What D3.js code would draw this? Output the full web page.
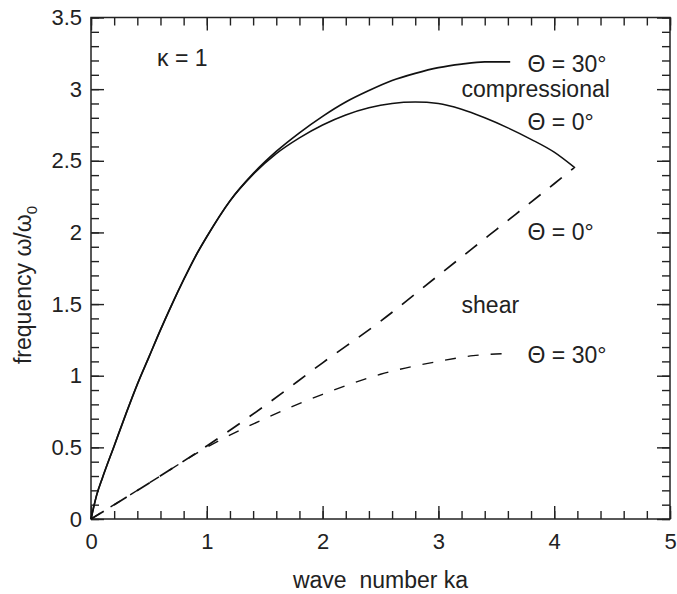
<!DOCTYPE html>
<html>
<head>
<meta charset="utf-8">
<script src="https://cdn.jsdelivr.net/npm/d3@7"></script>
<style>
  html, body { margin: 0; padding: 0; background: #fff; }
  svg { display: block; font-family: "Liberation Sans", Arial, Helvetica, sans-serif; }
</style>
</head>
<body>
<svg id="chart" width="677" height="594"></svg>
<script>
// ---- data (wave number ka, frequency ω/ω0) ----
const compTheta30K = [0, 0.05, 0.1, 0.2, 0.3, 0.4, 0.5, 0.6, 0.7, 0.8, 0.9, 1.0, 1.2, 1.4, 1.6, 1.8, 2.0, 2.2, 2.4, 2.6, 2.8, 3.0, 3.2, 3.4, 3.62];
const compTheta30W = [0, 0.17, 0.29, 0.51, 0.73, 0.94, 1.13, 1.32, 1.50, 1.67, 1.83, 1.97, 2.22, 2.41, 2.565, 2.695, 2.81, 2.91, 2.99, 3.06, 3.11, 3.15, 3.175, 3.19, 3.19];

const compTheta0K = [0, 0.05, 0.1, 0.2, 0.3, 0.4, 0.5, 0.6, 0.7, 0.8, 0.9, 1.0, 1.2, 1.4, 1.6, 1.8, 2.0, 2.2, 2.4, 2.6, 2.8, 3.0, 3.2, 3.4, 3.6, 3.8, 4.0, 4.18];
const compTheta0W = [0, 0.17, 0.29, 0.51, 0.73, 0.94, 1.13, 1.32, 1.50, 1.67, 1.83, 1.97, 2.22, 2.405, 2.55, 2.66, 2.75, 2.82, 2.87, 2.90, 2.91, 2.90, 2.86, 2.80, 2.73, 2.65, 2.56, 2.45];

const shearTheta0K = [0, 0.5, 1.0, 1.5, 2.0, 2.5, 3.0, 3.5, 4.0, 4.17];
const shearTheta0W = [0, 0.25, 0.51, 0.79, 1.09, 1.38, 1.70, 2.02, 2.34, 2.45];

const shearTheta30K = [0, 0.5, 1.0, 1.5, 2.0, 2.5, 3.0, 3.3, 3.62];
const shearTheta30W = [0, 0.25, 0.5, 0.7, 0.87, 1.01, 1.10, 1.14, 1.156];

const xMajorTicks = [0, 1, 2, 3, 4, 5];
const yMajorTicks = [0, 0.5, 1, 1.5, 2, 2.5, 3, 3.5];
const xMinorTicks = d3.range(0, 5.001, 0.2).map(v => +v.toFixed(1));
const yMinorTicks = d3.range(0, 3.501, 0.1).map(v => +v.toFixed(1));

const annotations = [
  { text: "κ = 1", k: 0.57, w: 3.16 },
  { text: "Θ = 30°", k: 3.77, w: 3.12 },
  { text: "compressional", k: 3.2, w: 2.945 },
  { text: "Θ = 0°", k: 3.77, w: 2.715 },
  { text: "Θ = 0°", k: 3.77, w: 1.947 },
  { text: "shear", k: 3.2, w: 1.438 },
  { text: "Θ = 30°", k: 3.77, w: 1.088 }
];

// ---- layout ----
const margin = { left: 91, top: 17.5, right: 7, bottom: 75 };
const W = 677, H = 594;
const svg = d3.select("#chart");

const x = d3.scaleLinear().domain([0, 5]).range([margin.left, W - margin.right]);
const y = d3.scaleLinear().domain([0, 3.5]).range([H - margin.bottom, margin.top]);

const axisColor = "#222";
const fontSize = 22;

// frame
svg.append("rect")
  .attr("x", x(0)).attr("y", y(3.5))
  .attr("width", x(5) - x(0)).attr("height", y(0) - y(3.5))
  .attr("fill", "none").attr("stroke", axisColor).attr("stroke-width", 1.5);

function styleAxis(g) {
  g.select(".domain").remove();
  g.selectAll(".tick line").attr("stroke", axisColor).attr("stroke-width", 1.4);
  g.selectAll(".tick text").attr("fill", "#222").attr("font-size", fontSize).attr("font-family", "Liberation Sans, Arial, sans-serif");
}

const majorLen = 13, minorLen = 8;

// bottom
svg.append("g").attr("transform", `translate(0,${y(0)})`)
  .call(d3.axisBottom(x).tickValues(xMinorTicks).tickSizeInner(-minorLen).tickSizeOuter(0).tickFormat(""))
  .call(styleAxis);
svg.append("g").attr("transform", `translate(0,${y(0)})`)
  .call(d3.axisBottom(x).tickValues(xMajorTicks).tickSizeInner(-majorLen).tickSizeOuter(0).tickPadding(14).tickFormat(d3.format("d")))
  .call(styleAxis);
// top
svg.append("g").attr("transform", `translate(0,${y(3.5)})`)
  .call(d3.axisTop(x).tickValues(xMinorTicks).tickSizeInner(-minorLen).tickSizeOuter(0).tickFormat(""))
  .call(styleAxis);
svg.append("g").attr("transform", `translate(0,${y(3.5)})`)
  .call(d3.axisTop(x).tickValues(xMajorTicks).tickSizeInner(-majorLen).tickSizeOuter(0).tickFormat(""))
  .call(styleAxis);
// left
svg.append("g").attr("transform", `translate(${x(0)},0)`)
  .call(d3.axisLeft(y).tickValues(yMinorTicks).tickSizeInner(-minorLen).tickSizeOuter(0).tickFormat(""))
  .call(styleAxis);
svg.append("g").attr("transform", `translate(${x(0)},0)`)
  .call(d3.axisLeft(y).tickValues(yMajorTicks).tickSizeInner(-majorLen).tickSizeOuter(0).tickPadding(9).tickFormat(d => String(d)))
  .call(styleAxis);
// right
svg.append("g").attr("transform", `translate(${x(5)},0)`)
  .call(d3.axisRight(y).tickValues(yMinorTicks).tickSizeInner(-minorLen).tickSizeOuter(0).tickFormat(""))
  .call(styleAxis);
svg.append("g").attr("transform", `translate(${x(5)},0)`)
  .call(d3.axisRight(y).tickValues(yMajorTicks).tickSizeInner(-majorLen).tickSizeOuter(0).tickFormat(""))
  .call(styleAxis);

// ---- curves ----
const line = d3.line().x(d => x(d[0])).y(d => y(d[1])).curve(d3.curveMonotoneX);
const zip = (a, b) => a.map((v, i) => [v, b[i]]);

const series = [
  { pts: zip(compTheta30K, compTheta30W), dash: null, width: 1.7 },
  { pts: zip(compTheta0K, compTheta0W), dash: null, width: 1.5 },
  { pts: zip(shearTheta0K, shearTheta0W), dash: "15,12", width: 1.7 },
  { pts: zip(shearTheta30K, shearTheta30W), dash: "11,12", width: 1.4 }
];

svg.append("g").selectAll("path").data(series).join("path")
  .attr("d", d => line(d.pts))
  .attr("fill", "none")
  .attr("stroke", "#111")
  .attr("stroke-width", d => d.width)
  .attr("stroke-dasharray", d => d.dash);

// ---- annotations ----
svg.append("g").selectAll("text").data(annotations).join("text")
  .attr("x", d => x(d.k))
  .attr("y", d => y(d.w))
  .attr("font-size", 23)
  .attr("fill", "#222")
  .text(d => d.text);

// ---- axis titles ----
svg.append("text")
  .attr("x", x(2.5)).attr("y", 588)
  .attr("text-anchor", "middle")
  .attr("font-size", 23)
  .attr("fill", "#222")
  .attr("xml:space", "preserve")
  .text("wave  number ka");

const yt = svg.append("text")
  .attr("transform", `translate(31,${285}) rotate(-90)`)
  .attr("text-anchor", "middle")
  .attr("font-size", 23)
  .attr("fill", "#222");
yt.append("tspan").text("frequency ω/ω");
yt.append("tspan").attr("font-size", 15).attr("dy", 6).text("0");
</script>
</body>
</html>
